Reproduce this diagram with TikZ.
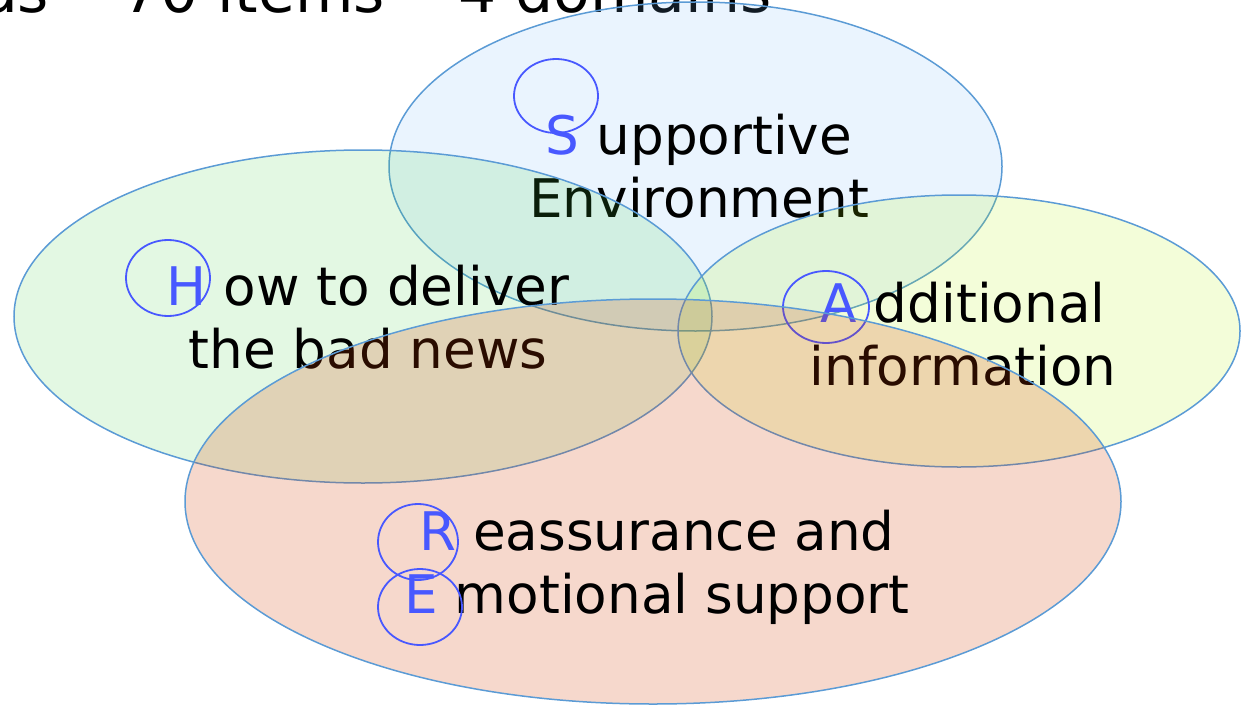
\documentclass[tikz,border=0pt]{standalone}
\usepackage{fontspec}
\setmainfont{DejaVu Sans}
\definecolor{rim}{RGB}{91,155,213}
\definecolor{initial}{RGB}{72,88,255}
\definecolor{skyfill}{RGB}{115,182,248}
\definecolor{mintfill}{RGB}{68,208,68}
\definecolor{limefill}{RGB}{175,242,2}
\definecolor{peachfill}{RGB}{210,60,0}

\begin{document}
\begin{tikzpicture}[x=0.5pt,y=-0.5pt,font=\fontsize{26.6}{31.5}\selectfont]
  \tikzset{
    zone/.style={draw=rim,line width=0.75pt,fill opacity=0.15},
    ring/.style={draw=initial,line width=0.9pt},
    lbl/.style={align=center,inner sep=0pt,anchor=base},
    ini/.style={text=initial}
  }
  \clip (0,0) rectangle (1241,706);
  \node[anchor=base east,inner sep=0pt,font=\fontsize{30}{36}\selectfont] (title) at (772,13)
    {as • 70 items • 4 domains};

  % S -- top
  \path[zone,fill=skyfill] (695.5,166.5) ellipse [x radius=306.5,y radius=164.5];
  \node[lbl] (supp) at (699,217) {{\color{initial}S} upportive\\Environment};
  \draw[ring] (556,96) ellipse [x radius=42,y radius=37];

  % H -- left
  \path[zone,fill=mintfill] (363,316.5) ellipse [x radius=349,y radius=166.5];
  \node[lbl] (how) at (368,368) {{\color{initial}H} ow to deliver\\the bad news};
  \draw[ring] (168,278) ellipse [x radius=42,y radius=38];

  % A -- right
  \path[zone,fill=limefill] (959,331) ellipse [x radius=281,y radius=136];
  \node[lbl] (add) at (963,385) {{\color{initial}A} dditional\\information};
  \draw[ring] (826,307) ellipse [x radius=43,y radius=36];

  % R + E -- bottom
  \path[zone,fill=peachfill,fill opacity=0.2] (653,501.5) ellipse [x radius=468,y radius=202.5];
  \node[lbl] (reas) at (657,613) {{\color{initial}R} eassurance and\\{\color{initial}E} motional support};
  \draw[ring] (418,542) ellipse [x radius=40,y radius=38];
  \draw[ring] (420,607) ellipse [x radius=42,y radius=38];
\end{tikzpicture}
\end{document}
